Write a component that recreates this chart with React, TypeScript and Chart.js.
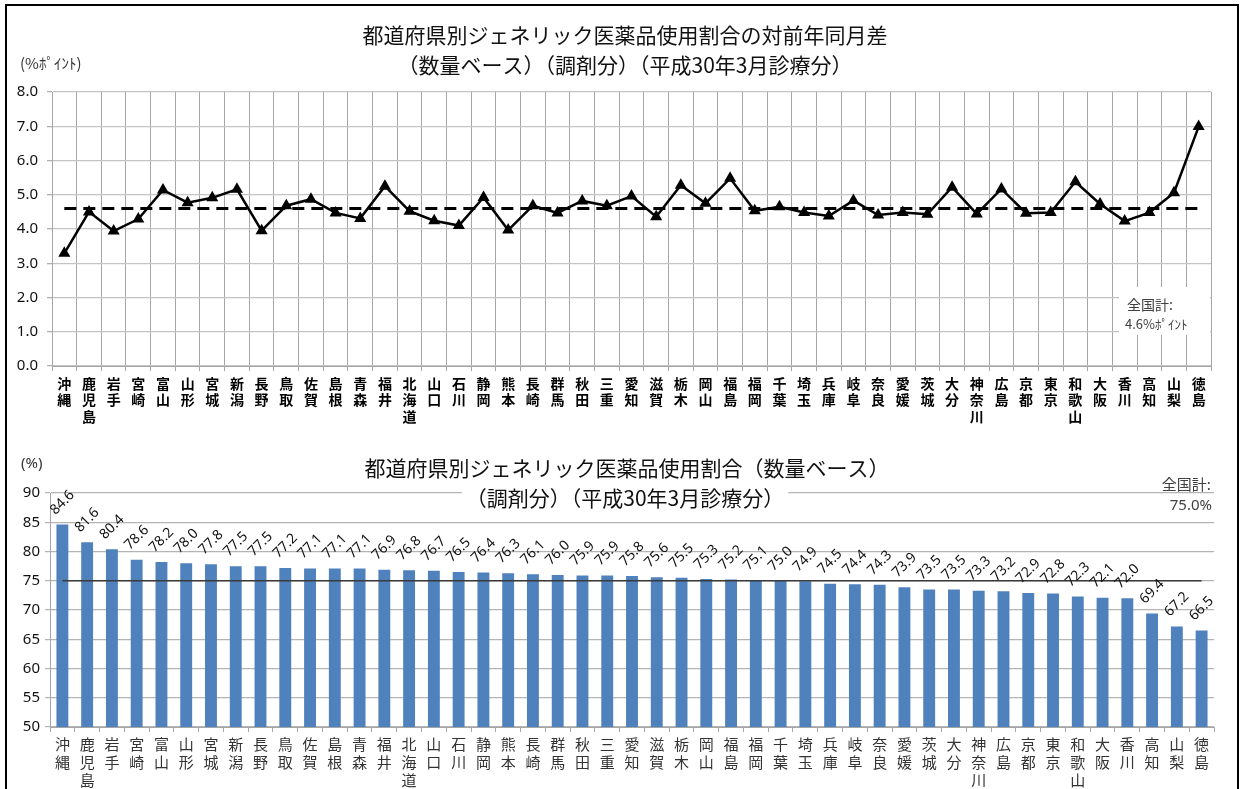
import React, { useEffect, useRef } from 'react';
import { Chart, registerables } from 'chart.js';

Chart.register(...registerables);

// ---------- data ----------
const prefectures = [
  '沖縄', '鹿児島', '岩手', '宮崎', '富山', '山形', '宮城', '新潟', '長野', '鳥取',
  '佐賀', '島根', '青森', '福井', '北海道', '山口', '石川', '静岡', '熊本', '長崎',
  '群馬', '秋田', '三重', '愛知', '滋賀', '栃木', '岡山', '福島', '福岡', '千葉',
  '埼玉', '兵庫', '岐阜', '奈良', '愛媛', '茨城', '大分', '神奈川', '広島', '京都',
  '東京', '和歌山', '大阪', '香川', '高知', '山梨', '徳島',
];

// year-on-year difference (% points)
const diffValues = [
  3.29, 4.5, 3.94, 4.29, 5.14, 4.77, 4.91, 5.16, 3.95, 4.68,
  4.87, 4.47, 4.31, 5.25, 4.52, 4.24, 4.1, 4.92, 3.97, 4.68,
  4.47, 4.82, 4.68, 4.96, 4.36, 5.28, 4.75, 5.48, 4.53, 4.65,
  4.48, 4.38, 4.83, 4.41, 4.48, 4.43, 5.22, 4.44, 5.17, 4.46,
  4.48, 5.38, 4.73, 4.23, 4.48, 5.06, 6.99,
];

// generic share (%)
const shareValues = [
  84.6, 81.6, 80.4, 78.6, 78.2, 78.0, 77.8, 77.5, 77.5, 77.2,
  77.1, 77.1, 77.1, 76.9, 76.8, 76.7, 76.5, 76.4, 76.3, 76.1,
  76.0, 75.9, 75.9, 75.8, 75.6, 75.5, 75.3, 75.2, 75.1, 75.0,
  74.9, 74.5, 74.4, 74.3, 73.9, 73.5, 73.5, 73.3, 73.2, 72.9,
  72.8, 72.3, 72.1, 72.0, 69.4, 67.2, 66.5,
];

const nationalDiff = 4.6;
const nationalShare = 75.0;

const topTitle = ['都道府県別ジェネリック医薬品使用割合の対前年同月差', '（数量ベース）（調剤分）（平成30年3月診療分）'];
const bottomTitle = ['都道府県別ジェネリック医薬品使用割合（数量ベース）', '（調剤分）（平成30年3月診療分）'];
const topUnit = '(%ﾎﾟｲﾝﾄ)';
const bottomUnit = '(%)';
const topNote = ['全国計:', '4.6%ﾎﾟｲﾝﾄ'];
const bottomNote = ['全国計:', '75.0%'];

const topAxis = { min: 0, max: 8, step: 0.5 };
const bottomAxis = { min: 50, max: 90, step: 5 };

const JP = '"Noto Sans CJK JP", "Noto Sans", sans-serif';
const NUM = '"Noto Sans", "Liberation Sans", sans-serif';

const W = 1244;
const TOP_H = 440;
const BOT_H = 349;

export default function App() {
  const topRef = useRef<HTMLCanvasElement | null>(null);
  const botRef = useRef<HTMLCanvasElement | null>(null);

  useEffect(() => {
    document.body.style.margin = '0';
    const labels = prefectures.map((p) => p.split(''));

    // ---------- top line chart ----------
    const topPlugin = {
      id: 'topDecor',
      beforeDatasetsDraw(chart: any) {
        const { ctx, scales } = chart;
        const x0 = scales.x.getPixelForValue(0);
        const x1 = scales.x.getPixelForValue(prefectures.length - 1);
        const y = scales.y.getPixelForValue(nationalDiff);
        ctx.save();
        ctx.strokeStyle = '#000';
        ctx.lineWidth = 3;
        ctx.setLineDash([12, 7]);
        ctx.beginPath();
        ctx.moveTo(x0, y);
        ctx.lineTo(x1, y);
        ctx.stroke();
        ctx.restore();
      },
      afterDraw(chart: any) {
        const { ctx } = chart;
        ctx.save();
        ctx.fillStyle = '#111';
        ctx.textAlign = 'center';
        ctx.textBaseline = 'middle';
        ctx.font = `21px ${JP}`;
        ctx.fillText(topTitle[0], 625, 35);
        ctx.fillText(topTitle[1], 625, 65);
        ctx.textAlign = 'left';
        ctx.font = `15px ${JP}`;
        ctx.fillStyle = '#333';
        ctx.fillText(topUnit, 20, 63);
        // note box
        ctx.fillStyle = '#fff';
        ctx.fillRect(1119, 287, 91, 48);
        ctx.fillStyle = '#404040';
        ctx.font = `14px ${JP}`;
        ctx.fillText(topNote[0], 1127, 305);
        ctx.font = `13px ${JP}`;
        ctx.fillText(topNote[1], 1125, 324);
        ctx.restore();
      },
    };

    const topChart = new Chart(topRef.current as HTMLCanvasElement, {
      type: 'line',
      data: {
        labels,
        datasets: [
          {
            data: diffValues,
            borderColor: '#000',
            backgroundColor: '#000',
            borderWidth: 2.5,
            pointStyle: 'triangle',
            pointRadius: 4.5,
            pointBackgroundColor: '#000',
            pointBorderColor: '#000',
            tension: 0,
          },
        ],
      },
      options: {
        responsive: false,
        maintainAspectRatio: false,
        animation: false,
        devicePixelRatio: 1,
        layout: { padding: { top: 92, left: 0, right: 33, bottom: 0 } },
        plugins: { legend: { display: false }, tooltip: { enabled: false }, title: { display: false } },
        scales: {
          x: {
            type: 'category',
            offset: true,
            grid: { offset: true, color: '#a6a6a6', lineWidth: 1, tickLength: 5, drawTicks: true },
            border: { color: '#a6a6a6' },
            ticks: {
              autoSkip: false,
              maxRotation: 0,
              minRotation: 0,
              padding: 4,
              color: '#000',
              font: { family: JP, size: 14, weight: 'bold', lineHeight: 1.18 },
            },
            afterFit: (s: any) => {
              s.height = 74;
            },
          },
          y: {
            min: topAxis.min,
            max: topAxis.max,
            ticks: {
              stepSize: topAxis.step,
              padding: 9,
              color: '#111',
              font: { family: NUM, size: 15 },
              callback: (v: any) => (Number(v) % 1 === 0 ? Number(v).toFixed(1) : ''),
            },
            grid: {
              color: '#c4c4c4',
              lineWidth: 1.3,
              tickLength: 5,
              tickColor: (c: any) => (c.tick && c.tick.value % 1 === 0 ? '#b0b0b0' : 'rgba(0,0,0,0)'),
            },
            border: { color: '#a6a6a6' },
            afterFit: (s: any) => {
              s.width = 52;
            },
          },
        },
      },
      plugins: [topPlugin],
    } as any);

    // ---------- bottom bar chart ----------
    const botPlugin = {
      id: 'botDecor',
      afterDatasetsDraw(chart: any) {
        const { ctx, scales } = chart;
        const meta = chart.getDatasetMeta(0);
        const x0 = scales.x.getPixelForValue(0);
        const x1 = scales.x.getPixelForValue(prefectures.length - 1);
        const y = scales.y.getPixelForValue(nationalShare);
        ctx.save();
        ctx.strokeStyle = '#3a3a3a';
        ctx.lineWidth = 1.5;
        ctx.beginPath();
        ctx.moveTo(x0, y);
        ctx.lineTo(x1, y);
        ctx.stroke();
        // data labels
        ctx.fillStyle = '#111';
        ctx.font = `14px ${NUM}`;
        ctx.textAlign = 'center';
        ctx.textBaseline = 'middle';
        meta.data.forEach((el: any, i: number) => {
          ctx.save();
          ctx.translate(el.x, el.y - 22);
          ctx.rotate(-Math.PI / 4);
          ctx.fillText(shareValues[i].toFixed(1), 0, 0);
          ctx.restore();
        });
        ctx.restore();
      },
      afterDraw(chart: any) {
        const { ctx } = chart;
        ctx.save();
        ctx.textAlign = 'center';
        ctx.textBaseline = 'middle';
        ctx.font = `21px ${JP}`;
        const w2 = ctx.measureText(bottomTitle[1]).width;
        ctx.fillStyle = '#fff';
        ctx.fillRect(625 - w2 / 2 - 4, 46, w2 + 8, 24);
        ctx.fillStyle = '#111';
        ctx.fillText(bottomTitle[0], 627, 28);
        ctx.fillText(bottomTitle[1], 625, 58);
        ctx.textAlign = 'left';
        ctx.font = `15px ${NUM}`;
        ctx.fillStyle = '#333';
        ctx.fillText(bottomUnit, 21, 24);
        ctx.textAlign = 'right';
        ctx.fillStyle = '#404040';
        ctx.font = `15px ${JP}`;
        ctx.fillText(bottomNote[0], 1211, 44);
        ctx.font = `15px ${NUM}`;
        ctx.fillText(bottomNote[1], 1212, 66);
        ctx.restore();
      },
    };

    const botChart = new Chart(botRef.current as HTMLCanvasElement, {
      type: 'bar',
      data: {
        labels,
        datasets: [
          {
            data: shareValues,
            backgroundColor: '#4f81bd',
            borderWidth: 0,
            barPercentage: 0.48,
            categoryPercentage: 1,
          },
        ],
      },
      options: {
        responsive: false,
        maintainAspectRatio: false,
        animation: false,
        devicePixelRatio: 1,
        layout: { padding: { top: 53, left: 0, right: 30, bottom: 0 } },
        plugins: { legend: { display: false }, tooltip: { enabled: false }, title: { display: false } },
        scales: {
          x: {
            type: 'category',
            offset: true,
            grid: { offset: true, drawOnChartArea: false, drawTicks: true, tickLength: 5, color: '#a6a6a6' },
            border: { color: '#a6a6a6' },
            ticks: {
              autoSkip: false,
              maxRotation: 0,
              minRotation: 0,
              padding: 4,
              color: '#333',
              font: { family: JP, size: 15, lineHeight: 1.17 },
            },
            afterFit: (s: any) => {
              s.height = 62;
            },
          },
          y: {
            min: bottomAxis.min,
            max: bottomAxis.max,
            ticks: {
              stepSize: bottomAxis.step,
              padding: 5,
              color: '#111',
              font: { family: NUM, size: 15 },
            },
            grid: { color: '#b4b4b4', lineWidth: 1.2, tickLength: 5 },
            border: { color: '#a6a6a6' },
            afterFit: (s: any) => {
              s.width = 50;
            },
          },
        },
      },
      plugins: [botPlugin],
    } as any);

    return () => {
      topChart.destroy();
      botChart.destroy();
    };
  }, []);

  return (
    <div style={{ position: 'relative', width: W, height: 789, overflow: 'hidden', background: '#fff' }}>
      <canvas
        ref={topRef}
        width={W}
        height={TOP_H}
        style={{ position: 'absolute', left: 0, top: 0, width: W, height: TOP_H }}
      />
      <canvas
        ref={botRef}
        width={W}
        height={BOT_H}
        style={{ position: 'absolute', left: 0, top: TOP_H, width: W, height: BOT_H }}
      />
      <div
        style={{
          position: 'absolute',
          left: 5,
          top: 4,
          width: 1230,
          height: 820,
          border: '2px solid #000',
          pointerEvents: 'none',
        }}
      />
    </div>
  );
}
